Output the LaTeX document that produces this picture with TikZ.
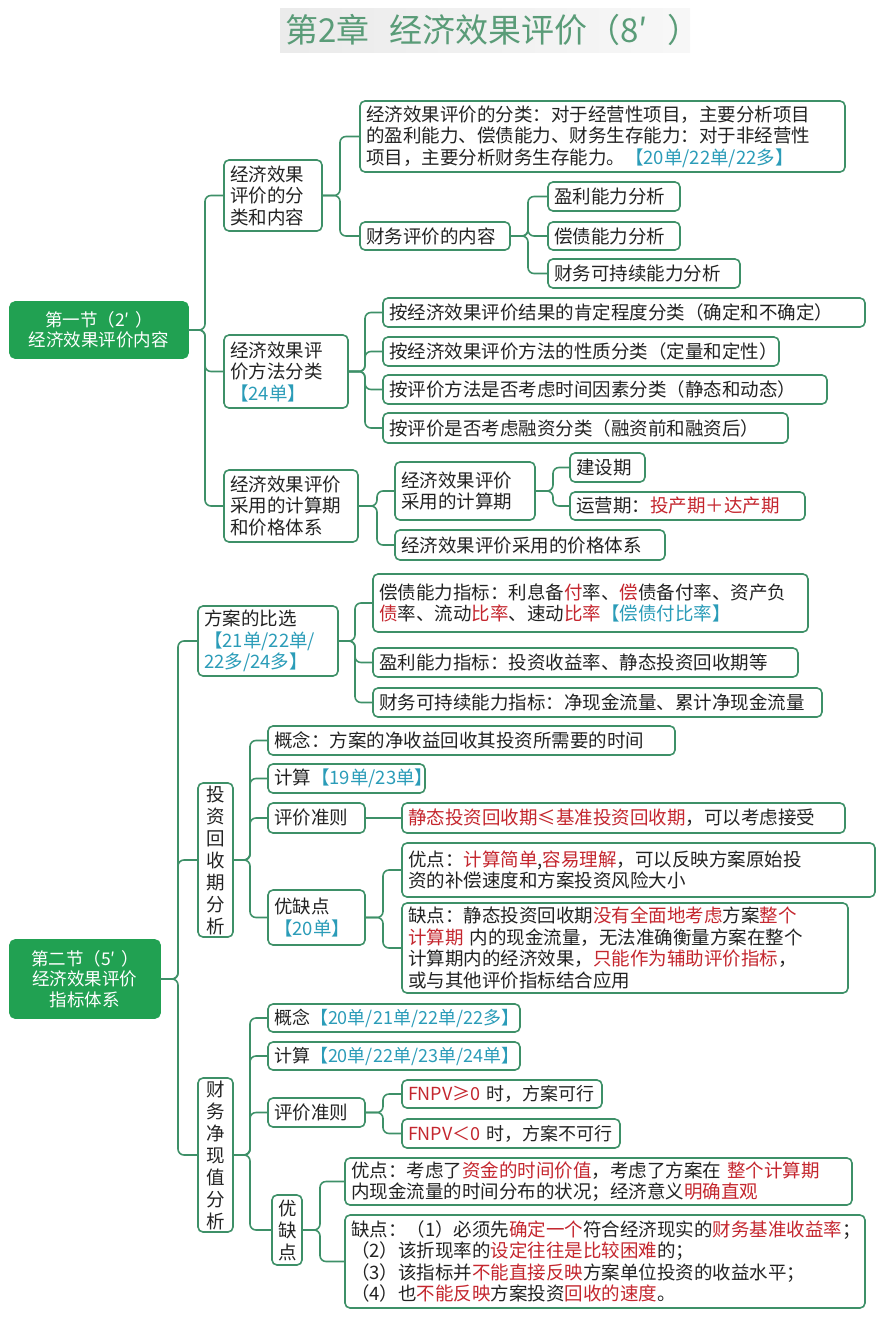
\documentclass[tikz,border=0pt]{standalone}
\usepackage{fontspec}
\setmainfont{Noto Sans CJK SC}
\definecolor{lg}{HTML}{3E9068}
\definecolor{rootg}{HTML}{21A152}
\definecolor{tagb}{HTML}{2B9CB8}
\definecolor{redt}{HTML}{C4262E}
\definecolor{titleg}{HTML}{5A9C78}
\definecolor{tx}{HTML}{222222}
\newcommand\bl[1]{\textcolor{tagb}{#1}}
\newcommand\rd[1]{\textcolor{redt}{#1}}
\newcommand\fs{\fontsize{18.5}{21.5}\selectfont}
\newcommand\fss{\fontsize{18}{21}\selectfont}
\tikzset{
  bx/.style={draw=lg, line width=1.6pt, rounded corners=5pt, inner xsep=6pt, inner ysep=0pt, outer sep=0pt, align=left, font=\fs, text=tx},
  sbx/.style={bx, font=\fss},
  vbx/.style={bx, align=center, font=\fontsize{18.5}{22}\selectfont},
  rootbx/.style={bx, fill=rootg, draw=rootg, text=white, align=center, font=\fontsize{17.5}{20.5}\selectfont},
  conn/.style={draw=lg, line width=1.6pt, rounded corners=6pt},
}
\newcommand\mybox[7][bx]{%
  \pgfmathsetmacro\bw{#5-#3-12}\pgfmathsetmacro\bh{#6-#4}%
  \node[#1,anchor=north west,text width=\bw pt,minimum height=\bh pt] (#2) at (#3,-#4) {#7};}
\begin{document}
\begin{tikzpicture}[x=1pt,y=1pt]
\useasboundingbox (0,0) rectangle (890,-1331);
\shade[left color=black!8, right color=black!3] (280,-8) rectangle (690,-52);
\node[font=\fontsize{33}{37}\selectfont, text=titleg, anchor=west, inner sep=0pt] (title) at (285,-30) {第2章\hspace{0.6em}经济效果评价（8′\hspace{0.6em}）};

% ---------- Section 1
\mybox[rootbx]{r1}{10}{302}{188}{358}{第一节（2′ ）\\经济效果评价内容}
\mybox{a}{224}{160}{322}{231}{经济效果\\评价的分\\类和内容}
\mybox{a1}{360}{101}{845}{172}{经济效果评价的分类：对于经营性项目，主要分析项目\\的盈利能力、偿债能力、财务生存能力：对于非经营性\\项目，主要分析财务生存能力。\bl{【20单/22单/22多】}}
\mybox{a2}{360}{222}{510}{250}{财务评价的内容}
\mybox{a2a}{548}{182}{680}{211}{盈利能力分析}
\mybox{a2b}{548}{222}{680}{250}{偿债能力分析}
\mybox{a2c}{548}{259}{740}{288}{财务可持续能力分析}
\mybox{b}{224}{335}{348}{408}{经济效果评\\价方法分类\\\bl{【24单】}}
\mybox{b1}{383}{298}{865}{327}{按经济效果评价结果的肯定程度分类（确定和不确定）}
\mybox{b2}{383}{337}{779}{366}{按经济效果评价方法的性质分类（定量和定性）}
\mybox{b3}{383}{375}{827}{404}{按评价方法是否考虑时间因素分类（静态和动态）}
\mybox{b4}{383}{413}{788}{443}{按评价是否考虑融资分类（融资前和融资后）}
\mybox{c}{224}{470}{358}{542}{经济效果评价\\采用的计算期\\和价格体系}
\mybox{c1}{395}{462}{535}{520}{经济效果评价\\采用的计算期}
\mybox{c1a}{570}{453}{645}{482}{建设期}
\mybox{c1b}{570}{492}{805}{520}{运营期：\rd{投产期＋达产期}}
\mybox{c2}{395}{530}{665}{560}{经济效果评价采用的价格体系}

\draw[conn] (r1.east) -- ++(17,0) |- (a.west);
\draw[conn] (r1.east) -- ++(17,0) |- (b.west);
\draw[conn] (r1.east) -- ++(17,0) |- (c.west);
\draw[conn] (a.east) -- ++(18,0) |- (a1.west);
\draw[conn] (a.east) -- ++(18,0) |- (a2.west);
\draw[conn] (a2.east) -- ++(18,0) |- (a2a.west);
\draw[conn] (a2.east) -- ++(18,0) |- (a2b.west);
\draw[conn] (a2.east) -- ++(18,0) |- (a2c.west);
\draw[conn] (b.east) -- ++(17,0) |- (b1.west);
\draw[conn] (b.east) -- ++(17,0) |- (b2.west);
\draw[conn] (b.east) -- ++(17,0) |- (b3.west);
\draw[conn] (b.east) -- ++(17,0) |- (b4.west);
\draw[conn] (c.east) -- ++(19,0) |- (c1.west);
\draw[conn] (c.east) -- ++(19,0) |- (c2.west);
\draw[conn] (c1.east) -- ++(18,0) |- (c1a.west);
\draw[conn] (c1.east) -- ++(18,0) |- (c1b.west);

% ---------- Section 2
\mybox[rootbx]{r2}{10}{940}{160}{1018}{第二节（5′ ）\\经济效果评价\\指标体系}
\mybox{d}{198}{606}{338}{676}{方案的比选\\\bl{【21单/22单/}\\\bl{22多/24多】}}
\mybox{d1}{373}{574}{808}{632}{偿债能力指标：利息备\rd{付}率、\rd{偿}债备付率、资产负\\\rd{债}率、流动\rd{比率}、速动\rd{比率}\bl{【偿债付比率】}}
\mybox{d2}{373}{648}{798}{677}{盈利能力指标：投资收益率、静态投资回收期等}
\mybox{d3}{373}{688}{822}{717}{财务可持续能力指标：净现金流量、累计净现金流量}

\mybox[vbx]{e}{198}{783}{233}{937}{投\\资\\回\\收\\期\\分\\析}
\mybox{e1}{268}{726}{675}{755}{概念：方案的净收益回收其投资所需要的时间}
\mybox{e2}{268}{764}{425}{793}{计算\bl{【19单/23单】}}
\mybox{e3}{268}{803}{365}{833}{评价准则}
\mybox{e3a}{402}{803}{845}{833}{\rd{静态投资回收期≤基准投资回收期}，可以考虑接受}
\mybox{e4}{268}{890}{365}{945}{优缺点\\\bl{【20单】}}
\mybox{e4a}{402}{843}{875}{897}{优点：\rd{计算简单},\rd{容易理解}，可以反映方案原始投\\资的补偿速度和方案投资风险大小}
\mybox{e4b}{402}{903}{848}{993}{缺点：静态投资回收期\rd{没有全面地考虑}方案\rd{整个}\\\rd{计算期} 内的现金流量，无法准确衡量方案在整个\\计算期内的经济效果，\rd{只能作为辅助评价指标}，\\或与其他评价指标结合应用}

\mybox[vbx]{f}{198}{1078}{233}{1232}{财\\务\\净\\现\\值\\分\\析}
\mybox[sbx]{f1}{268}{1004}{520}{1032}{概念\bl{【20单/21单/22单/22多】}}
\mybox[sbx]{f2}{268}{1042}{520}{1070}{计算\bl{【20单/22单/23单/24单】}}
\mybox{f3}{268}{1098}{365}{1127}{评价准则}
\mybox[sbx]{f3a}{402}{1080}{602}{1108}{\rd{FNPV≥0} 时，方案可行}
\mybox[sbx]{f3b}{402}{1119}{620}{1148}{\rd{FNPV＜0} 时，方案不可行}
\mybox[vbx]{f4}{272}{1195}{302}{1265}{优\\缺\\点}
\mybox{f4a}{345}{1158}{852}{1205}{优点：考虑了\rd{资金的时间价值}，考虑了方案在 \rd{整个计算期}\\内现金流量的时间分布的状况；经济意义\rd{明确直观}}
\mybox{f4b}{345}{1215}{865}{1308}{缺点：（1）必须先\rd{确定一个}符合经济现实的\rd{财务基准收益率}；\\（2）该折现率的\rd{设定往往是比较困难}的；\\（3）该指标并\rd{不能直接反映}方案单位投资的收益水平；\\（4）也\rd{不能反映}方案投资\rd{回收的速度}。}

\draw[conn] (r2.east) -- ++(18,0) |- (d.west);
\draw[conn] (r2.east) -- ++(18,0) |- (e.west);
\draw[conn] (r2.east) -- ++(18,0) |- (f.west);
\draw[conn] (d.east) -- ++(17,0) |- (d1.west);
\draw[conn] (d.east) -- ++(17,0) |- (d2.west);
\draw[conn] (d.east) -- ++(17,0) |- (d3.west);
\draw[conn] (e.east) -- ++(17,0) |- (e1.west);
\draw[conn] (e.east) -- ++(17,0) |- (e2.west);
\draw[conn] (e.east) -- ++(17,0) |- (e3.west);
\draw[conn] (e.east) -- ++(17,0) |- (e4.west);
\draw[conn, line width=2pt] (e3.east) -- (e3a.west);
\draw[conn] (e4.east) -- ++(18,0) |- (e4a.west);
\draw[conn] (e4.east) -- ++(18,0) |- (e4b.west);
\draw[conn] (f.east) -- ++(17,0) |- (f1.west);
\draw[conn] (f.east) -- ++(17,0) |- (f2.west);
\draw[conn] (f.east) -- ++(17,0) |- (f3.west);
\draw[conn] (f.east) -- ++(17,0) |- (f4.west);
\draw[conn] (f3.east) -- ++(18,0) |- (f3a.west);
\draw[conn] (f3.east) -- ++(18,0) |- (f3b.west);
\draw[conn] (f4.east) -- ++(18,0) |- (f4a.west);
\draw[conn] (f4.east) -- ++(18,0) |- (f4b.west);
\end{tikzpicture}
\end{document}
